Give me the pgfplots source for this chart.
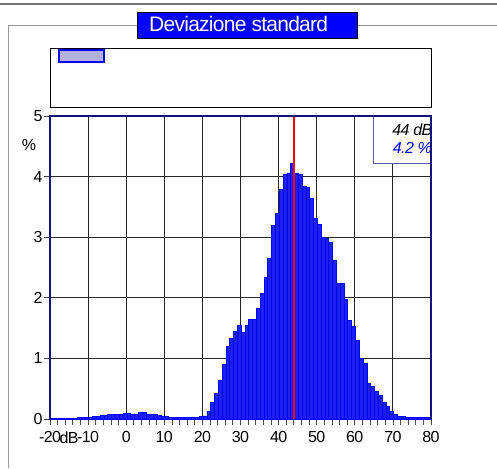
\documentclass[border=0pt]{standalone}
\usepackage{pgfplots}
\pgfplotsset{compat=1.18}
\usepackage{fontspec}
\setmainfont{Liberation Sans}
\definecolor{navy}{RGB}{20,20,120}
\definecolor{barblue}{RGB}{30,30,245}
\pgfplotstableread{
x y
-19.3 0.005
-18.3 0.005
-17.3 0.005
-16.3 0.005
-15.3 0.005
-14.3 0.005
-13.3 0.01
-12.3 0.02
-11.3 0.02
-10.3 0.02
-9.3 0.03
-8.3 0.04
-7.3 0.04
-6.3 0.06
-5.3 0.06
-4.3 0.07
-3.3 0.07
-2.3 0.07
-1.3 0.08
-0.3 0.09
0.7 0.09
1.7 0.08
2.7 0.07
3.7 0.11
4.7 0.10
5.7 0.07
6.7 0.08
7.7 0.08
8.7 0.06
9.7 0.05
10.7 0.04
11.7 0.03
12.7 0.03
13.7 0.03
14.7 0.03
15.7 0.03
16.7 0.03
17.7 0.03
18.7 0.03
19.7 0.04
20.7 0.05
21.7 0.13
22.7 0.28
23.7 0.42
24.7 0.64
25.7 0.90
26.7 1.19
27.7 1.33
28.7 1.45
29.7 1.54
30.7 1.43
31.7 1.54
32.7 1.64
33.7 1.64
34.7 1.82
35.7 2.07
36.7 2.34
37.7 2.65
38.7 3.20
39.7 3.39
40.7 3.79
41.7 4.04
42.7 4.06
43.7 4.22
44.7 4.06
45.7 4.04
46.7 3.84
47.7 3.82
48.7 3.64
49.7 3.31
50.7 3.21
51.7 2.99
52.7 2.98
53.7 2.92
54.7 2.62
55.7 2.23
56.7 2.23
57.7 1.98
58.7 1.63
59.7 1.52
60.7 1.29
61.7 1.00
62.7 0.91
63.7 0.58
64.7 0.54
65.7 0.46
66.7 0.39
67.7 0.28
68.7 0.20
69.7 0.13
70.7 0.07
71.7 0.045
72.7 0.045
73.7 0.02
74.7 0.02
75.7 0.02
76.7 0.02
77.7 0.02
78.7 0.02
79.5 0.02
}\histdata
\begin{document}
\begin{tikzpicture}[x=1pt,y=1pt]
\useasboundingbox (0,0) rectangle (497,468);
% top separator line
\draw[black!55, line width=2pt] (0,464) -- (497,464);
% outer frame
\draw[black!40, line width=1pt] (8,0) -- (8,442) -- (137,442);
\draw[black!45, line width=1pt] (357,442) -- (497,442);
% title box
\draw[black, line width=0.8pt, fill=blue] (137,430) rectangle (357,456);
\node[text=white, anchor=west, inner sep=0pt] at (149,443.5)
  {\fontsize{21}{21}\selectfont\addfontfeature{LetterSpace=-3.5}Deviazione standard};
% legend box
\draw[black, line width=0.8pt, fill=white] (50,361) rectangle (431,420);
\draw[blue, line width=1.5pt, fill=blue!35!gray!45!white] (59,406) rectangle (104,418);
\begin{axis}[
  at={(50pt,49pt)}, anchor=south west,
  scale only axis, width=381pt, height=303pt,
  xmin=-20, xmax=80, ymin=0, ymax=5,
  xtick={-20,-10,...,80},
  xticklabels={-20,-10,0,10,20,30,40,50,60,70,80},
  minor xtick={-18,-16,...,78},
  ytick={0,1,...,5},
  tick align=outside,
  major tick length=6pt, minor tick length=6pt,
  tick style={black!70, line width=0.8pt},
  xtick pos=bottom, ytick pos=left,
  grid=major,
  major grid style={black!85, line width=0.9pt},
  axis line style={navy, line width=1.6pt},
  ticklabel style={font=\fontsize{16}{16}\selectfont\addfontfeature{LetterSpace=-4}},
  /pgf/number format/assume math mode=true,
  xticklabel style={yshift=-3pt},
  yticklabel style={xshift=2pt},
  clip=false,
]
\addplot[ybar, bar width=1, fill=barblue, draw=blue, line width=0.9pt] table[x=x,y=y] {\histdata};
\addplot[red, line width=2pt] coordinates {(44,0) (44,5)};
\draw[navy!70, line width=1pt, fill=white] (axis cs:64.8,5) rectangle (axis cs:80,4.22);
\node[anchor=east, inner sep=0pt, font=\fontsize{16}{16}\selectfont\itshape\addfontfeature{LetterSpace=-4}] at (axis cs:80.4,4.78) {44 dB};
\node[anchor=east, inner sep=0pt, text=blue, font=\fontsize{16}{16}\selectfont\itshape\addfontfeature{LetterSpace=-4}] at (axis cs:80.3,4.47) {4.2 \%};
\node[font=\fontsize{16}{16}\selectfont] at (axis cs:-25.5,4.52) {\%};
\node[font=\fontsize{16}{16}\selectfont\addfontfeature{LetterSpace=-4}, inner sep=0pt] at (axis cs:-15,-0.31) {dB};
\draw[navy, line width=1.6pt] (axis cs:-20,0) -- (axis cs:-20,5) -- (axis cs:80,5) -- (axis cs:80,0);
\end{axis}
\end{tikzpicture}
\end{document}
